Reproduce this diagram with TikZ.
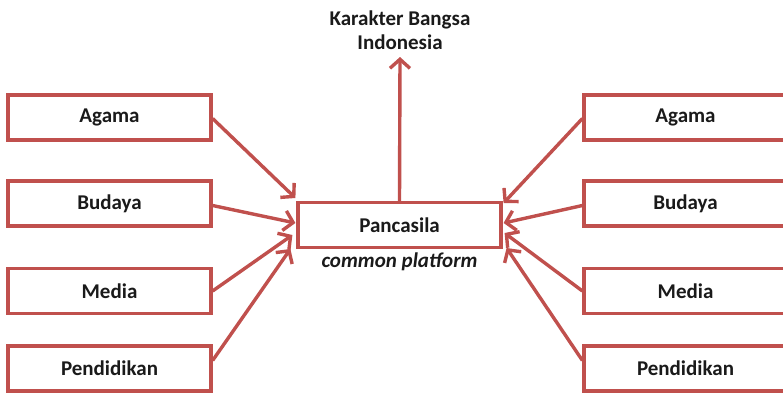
\documentclass[tikz,border=0pt]{standalone}
\usepackage{fontspec}
\setmainfont{Carlito}
\usetikzlibrary{arrows.meta,calc}
\definecolor{boxred}{HTML}{C0504D}
\definecolor{txt}{HTML}{1A1A1A}
\begin{document}
\begin{tikzpicture}[x=1pt,y=-1pt,
  lbl/.style={font=\fontsize{21}{24}\selectfont\bfseries,text=txt},
  srcbox/.style={draw=boxred,line width=3.2pt,fill=white,minimum width=203pt,minimum height=45pt,inner sep=0pt,lbl},
  arr/.style={draw=boxred,line width=3.4pt,-{Straight Barb[length=9pt,width=20pt]}}]
\useasboundingbox (0,0) rectangle (783,394);
\clip (0,0) rectangle (783,394);
\node[srcbox] (la) at (109.5,117.5) {Agama};
\node[srcbox] (lb) at (109.5,203.5) {Budaya};
\node[srcbox] (lm) at (109.5,291) {Media};
\node[srcbox] (lp) at (109.5,368.5) {Pendidikan};
\node[srcbox] (ra) at (685.5,117.5) {Agama};
\node[srcbox] (rb) at (685.5,203.5) {Budaya};
\node[srcbox] (rm) at (685.5,291) {Media};
\node[srcbox] (rp) at (685.5,368.5) {Pendidikan};
\node[srcbox] (p) at (399.5,225) {Pancasila};
\node[font=\fontsize{21}{24}\selectfont\bfseries\itshape,text=txt,anchor=north,inner sep=0pt] (cp) at (399.5,253) {common platform};
\node[lbl,align=center,inner sep=0pt] (k) at (400,30) {Karakter Bangsa\\[0pt]Indonesia};
\coordinate (kt) at (400,57);
\draw[arr] (p.north) -- (kt);
\draw[arr] ($(la.east)+(0,1)$) -- ($(p.west)+(-1,-27)$);
\draw[arr] ($(lb.east)+(0,2)$) -- ($(p.west)+(-1,-2)$);
\draw[arr] (lm.east) -- ($(p.west)+(-4,10)$);
\draw[arr] ($(lp.east)+(0,-8)$) -- ($(p.west)+(-6,24)$);
\draw[arr] ($(ra.west)+(0,1)$) -- ($(p.east)+(1,-22)$);
\draw[arr] ($(rb.west)+(0,2)$) -- ($(p.east)+(1,-2)$);
\draw[arr] (rm.west) -- ($(p.east)+(2,8)$);
\draw[arr] ($(rp.west)+(0,-8)$) -- ($(p.east)+(4,23)$);
\end{tikzpicture}
\end{document}
